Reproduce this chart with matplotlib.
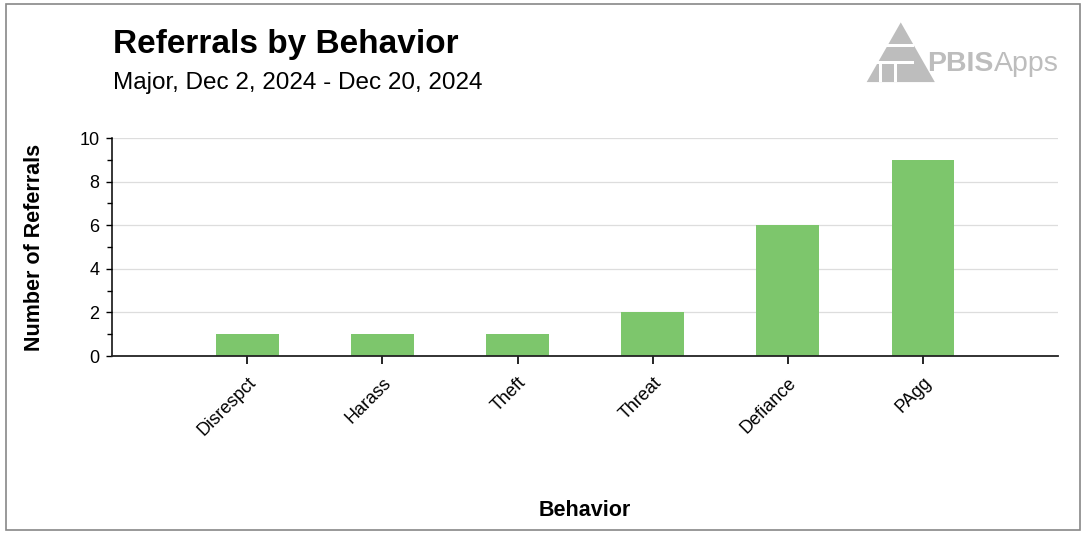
import numpy as np
import matplotlib
matplotlib.use("Agg")
import matplotlib.pyplot as plt
from matplotlib.patches import Polygon, Rectangle

plt.rcParams.update({
    "font.family": ["Liberation Sans", "DejaVu Sans"],
    "figure.facecolor": "white", "axes.facecolor": "white",
})

behaviors = ["Disrespct", "Harass", "Theft", "Threat", "Defiance", "PAgg"]
referrals = [1, 1, 1, 2, 6, 9]
yticks = [0, 2, 4, 6, 8, 10]

BAR = "#7DC66C"

fig = plt.figure(figsize=(10.82, 5.33), dpi=100)
ax = fig.add_axes([0.1035, 0.332, 0.8745, 0.409])

x = np.arange(1, len(behaviors) + 1)
ax.bar(x, referrals, width=0.465, color=BAR, zorder=2)

ax.set_xlim(0, len(behaviors) + 1)
ax.set_ylim(0, 10)
ax.set_yticks(yticks)
ax.set_yticks([1, 3, 5, 7, 9], minor=True)
ax.set_xticks(x)
ax.set_xticklabels(behaviors, rotation=45, ha="right", rotation_mode="anchor", fontsize=13)
ax.tick_params(axis="y", labelsize=13, length=4, width=1, pad=5)
ax.tick_params(axis="y", which="minor", length=3.5, width=1)
ax.tick_params(axis="x", length=6, width=1.2, pad=7)
ax.grid(axis="y", color="#DDDDDD", lw=0.9, zorder=0)

for s in ["top", "right"]:
    ax.spines[s].set_visible(False)
ax.spines["left"].set_linewidth(1.1)
ax.spines["bottom"].set_linewidth(1.3)
ax.spines["bottom"].set_color("#222222")

ax.set_ylabel("Number of Referrals", fontsize=15.5, fontweight="bold", labelpad=25)
fig.text(0.54, 0.022, "Behavior", fontsize=15.5, fontweight="bold", ha="center", va="bottom")

fig.text(0.104, 0.888, "Referrals by Behavior", fontsize=24, fontweight="bold", ha="left", va="bottom")
fig.text(0.104, 0.824, "Major, Dec 2, 2024 - Dec 20, 2024", fontsize=17.5, ha="left", va="bottom")

# logo
logo = "#BDBDBD"
fig.patches.append(Polygon([[0.801, 0.846], [0.864, 0.846], [0.8325, 0.958]], closed=True,
                           transform=fig.transFigure, color=logo, ec="none"))
for yy in [0.880, 0.912]:
    fig.patches.append(Rectangle((0.80, yy), 0.045, 0.006, transform=fig.transFigure,
                                 color="white", ec="none"))
for xx in [0.812, 0.826]:
    fig.patches.append(Rectangle((xx, 0.846), 0.003, 0.035, transform=fig.transFigure,
                                 color="white", ec="none"))
t1 = fig.text(0.857, 0.856, "PBIS", fontsize=20.5, fontweight="bold", color=logo, ha="left", va="bottom")
fig.canvas.draw()
bb = t1.get_window_extent().transformed(fig.transFigure.inverted())
fig.text(bb.x1, 0.856, "Apps", fontsize=20.5, color=logo, ha="left", va="bottom")

# frame
fig.patches.append(Rectangle((0.006, 0.005), 0.992, 0.988, transform=fig.transFigure,
                             fill=False, ec="#888888", lw=1.2))

fig.savefig("out.png", dpi=100)
